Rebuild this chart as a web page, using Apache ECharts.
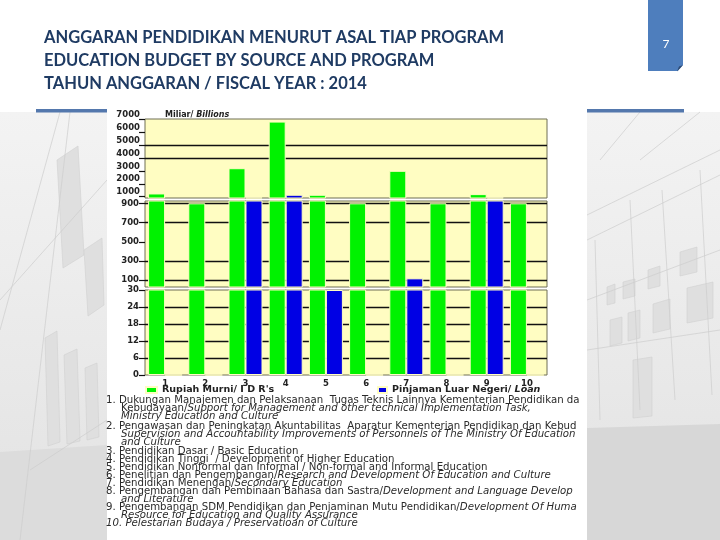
<!DOCTYPE html>
<html><head><meta charset="utf-8">
<script src="https://cdn.jsdelivr.net/npm/echarts@6/dist/echarts.min.js"></script>
<style>html,body{margin:0;padding:0;background:#fff}#c{width:720px;height:540px}</style>
</head><body><div id="c"></div>
<script>
// ---- data ----
const categories = ['1', '2', '3', '4', '5', '6', '7', '8', '9', '10'];
const rupiahMurni = [1250, 900, 3200, 6800, 1150, 900, 3000, 900, 1200, 900];
const pinjamanLuarNegeri = [0, 0, 950, 1150, 30, 0, 120, 0, 950, 0];
const topTicks = [1000, 2000, 3000, 4000, 5000, 6000, 7000];
const midTicks = [100, 300, 500, 700, 900];
const topGridLines = [4000, 5000];
const midGridLines = [100, 300, 700, 900];
const lowGridLines = [6, 12, 18, 24];
const seriesNames = ["Rupiah Murni/ I D R's", 'Pinjaman Luar Negeri/ Loan'];
const titleLines = [
  'ANGGARAN PENDIDIKAN MENURUT ASAL TIAP PROGRAM',
  'EDUCATION BUDGET BY SOURCE AND PROGRAM',
  'TAHUN ANGGARAN / FISCAL YEAR : 2014'
];
const unitLabel = '{a|Miliar/ }{b|Billions}';
const pageNumber = '7';
const noteLines = [
  '1. Dukungan Manajemen dan Pelaksanaan  Tugas Teknis Lainnya Kementerian Pendidikan dan',
  'Kebudayaan/{i|Support for Management and other technical Implementation Task,}',
  '{i|Ministry Education and Culture}',
  '2. Pengawasan dan Peningkatan Akuntabilitas  Aparatur Kementerian Pendidikan dan Kebudayaan/',
  '{i|Supervision and Accountability Improvements of Personnels of The Ministry Of Education}',
  '{i|and Culture}',
  '3. Pendidikan Dasar / Basic Education',
  '4. Pendidikan Tinggi  / Development of Higher Education',
  '5. Pendidikan Nonformal dan Informal / Non-formal and Informal Education',
  '6. Penelitian dan Pengembangan/{i|Research and Development Of Education and Culture}',
  '7. Pendidikan Menengah/{i|Secondary Education}',
  '8. Pengembangan dan Pembinaan Bahasa dan Sastra/{i|Development and Language Development}',
  '{i|and Literature}',
  '9. Pengembangan SDM Pendidikan dan Penjaminan Mutu Pendidikan/{i|Development Of Human}',
  '{i|Resource for Education and Quality Assurance}',
  '{i|10. Pelestarian Budaya / Preservatioan of Culture}'
];

// ---- styles ----
const FONT = 'DejaVu Sans';
const GREEN = '#00F200', BLUE = '#0000E4', PLOT_BG = '#FFFDC2';
const labelStyle = { fontFamily: FONT, fontSize: 8.5, fontWeight: 'bold', color: '#222' };

const grids = [
  { left: 145, right: 173, top: 119, bottom: 342 },
  { left: 145, right: 173, top: 201, bottom: 253 },
  { left: 145, right: 173, top: 290, bottom: 165 }
].map(g => Object.assign(g, { show: true, backgroundColor: PLOT_BG, borderColor: '#6e6e55', borderWidth: 1, containLabel: false }));

const xAxes = [0, 1, 2].map(i => ({
  type: 'category', gridIndex: i, data: categories,
  axisLine: { show: false }, axisTick: { show: false },
  axisLabel: Object.assign({ show: i === 2, margin: 4 }, labelStyle),
  splitLine: { show: false }
}));

const tickCommon = { show: true, inside: false, length: 6, lineStyle: { color: '#111', width: 1.2 } };
const yAxes = [
  { gridIndex: 0, min: 900, max: 7000,
    axisLabel: Object.assign({ customValues: topTicks, verticalAlign: 'bottom', margin: 5, formatter: v => String(v) }, labelStyle),
    axisTick: Object.assign({ customValues: topTicks }, tickCommon) },
  { gridIndex: 1, min: 30, max: 924,
    axisLabel: Object.assign({ customValues: midTicks, margin: 6, formatter: v => String(v) }, labelStyle),
    axisTick: Object.assign({ customValues: midTicks }, tickCommon) },
  { gridIndex: 2, min: 0, max: 30, interval: 6,
    axisLabel: Object.assign({ margin: 6, formatter: v => String(v) }, labelStyle),
    axisTick: tickCommon }
].map(a => Object.assign({ type: 'value', axisLine: { show: false }, splitLine: { show: false } }, a));

const gridLineSets = [topGridLines, midGridLines, lowGridLines];
const series = [];
[0, 1, 2].forEach(i => {
  series.push({
    type: 'bar', name: seriesNames[0], xAxisIndex: i, yAxisIndex: i, data: rupiahMurni,
    barWidth: 17, barGap: '0%', clip: true, z: 10, silent: true,
    itemStyle: { color: GREEN, borderColor: PLOT_BG, borderWidth: 1 },
    markLine: {
      z: 1, silent: true, symbol: ['none', 'none'], label: { show: false }, animation: false,
      lineStyle: { color: '#111', width: 1.3, type: 'solid' },
      emphasis: { disabled: true },
      data: gridLineSets[i].map(v => ({ yAxis: v }))
    }
  });
  series.push({
    type: 'bar', name: seriesNames[1], xAxisIndex: i, yAxisIndex: i, data: pinjamanLuarNegeri,
    barWidth: 17, barGap: '0%', clip: true, z: 10, silent: true,
    itemStyle: { color: BLUE, borderColor: PLOT_BG, borderWidth: 1 }
  });
});

const legendText = { fontFamily: FONT, fontSize: 9.5, fontWeight: 'bold', color: '#222' };
const legends = [
  { data: [seriesNames[0]], left: 145, top: 385, icon: 'rect', itemWidth: 11, itemHeight: 6, itemGap: 0, selectedMode: false,
    padding: 0, textStyle: legendText },
  { data: [seriesNames[1]], left: 377, top: 385, icon: 'rect', itemWidth: 9, itemHeight: 6, itemGap: 0, selectedMode: false,
    padding: 0,
    formatter: n => { const p = n.split('/ '); return '{a|' + p[0] + '/ }{b|' + p[1] + '}'; },
    textStyle: Object.assign({ rich: {
      a: Object.assign({}, legendText),
      b: Object.assign({ fontStyle: 'italic' }, legendText)
    } }, legendText) }
];

// ---- slide decoration ----
const graphics = [];
const bgGrad = new echarts.graphic.LinearGradient(0, 0, 0, 1, [
  { offset: 0, color: '#f3f3f3' }, { offset: 1, color: '#e2e2e2' }]);
graphics.push({ type: 'rect', z: -20, shape: { x: 0, y: 112, width: 720, height: 428 }, style: { fill: bgGrad } });
graphics.push({ type: 'polygon', z: -19, shape: { points: [[0, 452], [107, 445], [107, 540], [0, 540]] }, style: { fill: '#dcdcdc' } });
graphics.push({ type: 'polygon', z: -19, shape: { points: [[587, 428], [720, 424], [720, 540], [587, 540]] }, style: { fill: '#d7d7d7' } });
const shadePolys = [
  [[57, 160], [78, 146], [84, 255], [63, 268]],
  [[84, 250], [102, 238], [104, 305], [88, 316]],
  [[45, 338], [57, 331], [60, 442], [48, 446]],
  [[64, 355], [77, 349], [80, 441], [67, 444]],
  [[85, 368], [97, 363], [99, 437], [87, 440]],
  [[607, 287], [615, 284], [615, 303], [607, 305]],
  [[623, 282], [635, 279], [635, 296], [623, 299]],
  [[648, 270], [660, 266], [660, 286], [648, 289]],
  [[680, 252], [697, 247], [697, 272], [680, 276]],
  [[610, 320], [622, 317], [622, 343], [610, 346]],
  [[628, 313], [640, 310], [640, 338], [628, 341]],
  [[653, 304], [670, 299], [670, 329], [653, 333]],
  [[687, 288], [713, 282], [713, 318], [687, 323]],
  [[633, 360], [652, 357], [652, 416], [633, 418]]
];
shadePolys.forEach(p => graphics.push({ type: 'polygon', z: -18, shape: { points: p }, style: { fill: '#dfdfdf', stroke: '#d0d0d0', lineWidth: 0.6 } }));
const faintLines = [
  [[20, 540], [70, 112]], [[0, 300], [107, 180]], [[0, 330], [60, 112]], [[30, 470], [107, 420]],
  [[587, 215], [720, 150]], [[587, 240], [720, 175]], [[587, 300], [720, 250]],
  [[600, 160], [640, 112]], [[640, 160], [700, 112]], [[600, 420], [595, 240]], [[640, 410], [630, 200]],
  [[675, 400], [662, 190]], [[712, 395], [700, 170]], [[587, 350], [720, 330]]
];
faintLines.forEach(l => graphics.push({ type: 'polyline', z: -18, shape: { points: l }, style: { stroke: '#cdcdcd', lineWidth: 0.7, fill: null } }));
// white chart panel
graphics.push({ type: 'rect', z: -15, shape: { x: 107, y: 112, width: 480, height: 428 }, style: { fill: '#ffffff' } });
// blue rules
graphics.push({ type: 'rect', z: -10, shape: { x: 36, y: 109, width: 71, height: 3.5 }, style: { fill: '#5478ad' } });
graphics.push({ type: 'rect', z: -10, shape: { x: 587, y: 109, width: 97, height: 3.5 }, style: { fill: '#5478ad' } });
// page number tab
graphics.push({ type: 'rect', z: -10, shape: { x: 648, y: 0, width: 35, height: 71 }, style: { fill: '#4e7ebd' } });
graphics.push({ type: 'polygon', z: -9, shape: { points: [[683, 65], [684, 72], [677, 72]] }, style: { fill: '#ffffff' } });
graphics.push({ type: 'polygon', z: -9, shape: { points: [[677, 71.5], [683, 65], [679, 66.5]] }, style: { fill: '#2e4a72' } });
graphics.push({ type: 'text', z: 5, style: { text: pageNumber, x: 666, y: 44, fill: '#ffffff', fontFamily: 'Lato', fontSize: 12, align: 'center', verticalAlign: 'middle' } });
// title
titleLines.forEach((t, i) => graphics.push({ type: 'text', z: 5, style: {
  text: t, x: 44, y: 38 + i * 23, fill: '#1F3B63', fontFamily: 'Lato', fontWeight: 'bold', fontSize: 16.5, verticalAlign: 'middle' } }));
// unit label
graphics.push({ type: 'text', z: 5, style: {
  text: unitLabel, x: 165, y: 114.5, verticalAlign: 'middle', fontFamily: FONT, fontSize: 8, fontWeight: 'bold', fill: '#222',
  rich: { a: { fontFamily: FONT, fontSize: 8, fontWeight: 'bold', fill: '#222' },
          b: { fontFamily: FONT, fontSize: 8, fontWeight: 'bold', fontStyle: 'italic', fill: '#222' } } } });
// footnotes
const noteFont = { fontFamily: FONT, fontSize: 10.2, fill: '#2a2a2a' };
noteLines.forEach((t, i) => {
  const numbered = /^(\{i\|)?\d+\./.test(t);
  const y = 400 + i * 7.95 + (i >= 3 ? 2.5 : 0) + (i >= 6 ? 1.5 : 0);
  const x = numbered ? 106 : 121;
  graphics.push({ type: 'text', z: 5, style: Object.assign({
    text: t, x: x, y: y, verticalAlign: 'middle', width: 582 - x, overflow: 'truncate', ellipsis: '',
    rich: { i: Object.assign({ fontStyle: 'italic' }, noteFont) } }, noteFont) });
});

const chart = echarts.init(document.getElementById('c'), null, { renderer: 'canvas', width: 720, height: 540 });
chart.setOption({
  animation: false,
  backgroundColor: '#ffffff',
  grid: grids,
  xAxis: xAxes,
  yAxis: yAxes,
  legend: legends,
  series: series,
  graphic: { elements: graphics }
});
</script>
</body></html>
